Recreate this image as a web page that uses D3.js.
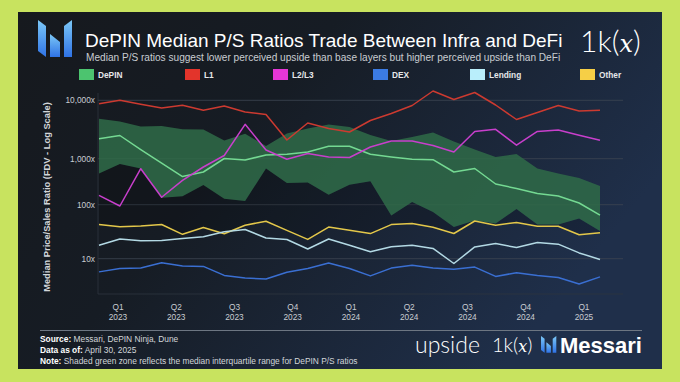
<!DOCTYPE html>
<html><head><meta charset="utf-8">
<script src="https://cdn.jsdelivr.net/npm/d3@7"></script>
<style>html,body{margin:0;padding:0;background:#c8e35f;}svg{display:block;}</style>
</head><body>
<svg id="c" width="680" height="382"></svg>
<script>
// ---------- data ----------
const quarters = ["Q1 2023","Q2 2023","Q3 2023","Q4 2023","Q1 2024","Q2 2024","Q3 2024","Q4 2024","Q1 2025"];
const yTicks = [10, 100, 1000, 10000];
const depin = [2200,2496,1437,806,410,514,1008,937,1157,1189,1302,1631,1631,1189,1069,970,951,514,612,282,225,175,155,109,64];
const depinQ3 = [4823,4335,3559,3630,3187,3162,2050,2670,1650,2701,3290,3852,3489,2546,2010,2352,2809,1970,1437,1069,1204,612,477,380,255];
const depinQ1 = [477,767,612,142,153,268,134,120,612,296,305,164,271,324,63,114,73,38.6,51,44.9,83,43,43,55.5,32.6];
const l1 = [8750,10000,8540,7384,8211,6742,7988,6305,5712,2090,4087,3290,2866,4510,5942,8147,14430,10320,13600,8310,4690,6182,8147,6559,6742];
const l2l3 = [160,94.6,606,145,339,660,1134,3882,1410,970,1227,1069,1048,1586,2010,2010,1683,1302,2923,3187,1703,2923,3100,2526,2074];
const dex = [5.7,6.6,6.7,8.4,7.3,7.2,4.9,4.4,4.2,5.6,6.6,8.3,6.6,4.8,6.7,7.6,6.7,6.4,7.0,4.7,5.5,4.9,4.5,3.4,4.6];
const lending = [17.8,23.2,21.5,21.7,23.7,25.4,31.5,34.7,24.2,22.7,15.1,23.2,17.8,13.4,16.6,17.8,15.5,8.15,16.5,19.1,16.1,20,18.6,12.8,9.7];
const other = [43,39,40.3,43,28.3,37.8,28.9,41.7,49.5,33.4,22.8,38.6,33.7,29.2,42.8,44.7,38.3,29.3,49.9,41.7,46.8,40,40,27.7,30.2];
const legendNames = ["DePIN","L1","L2/L3","DEX","Lending","Other"];
const legendColors = ["#4cc46f","#e3342b","#e636d6","#3b7be3","#b9eefb","#f6cf46"];

// ---------- drawing ----------
const svg = d3.select("#c");
const defs = svg.append("defs");
const g1 = defs.append("linearGradient").attr("id","bg").attr("x1","0").attr("y1","0").attr("x2","1").attr("y2","0.45");
g1.append("stop").attr("offset","0").attr("stop-color","#16191e");
g1.append("stop").attr("offset","0.42").attr("stop-color","#161c24");
g1.append("stop").attr("offset","1").attr("stop-color","#1f2f4a");
const g2 = defs.append("linearGradient").attr("id","logo").attr("x1","0").attr("y1","0").attr("x2","0").attr("y2","1");
g2.append("stop").attr("offset","0").attr("stop-color","#7cc8f7");
g2.append("stop").attr("offset","1").attr("stop-color","#2f73e6");

svg.append("rect").attr("x",0).attr("y",0).attr("width",680).attr("height",382).attr("fill","#c8e35f");
svg.append("rect").attr("x",18).attr("y",12).attr("width",644).attr("height",357).attr("fill","url(#bg)");

// logo icon
function logo(x0, y0, s){
  const shapes = [
    [[0,0],[8,6],[8,37],[0,31]],
    [[12,14],[22,22],[22,37],[12,37]],
    [[26,6],[34,0],[34,37],[26,37]]
  ];
  shapes.forEach(p=>{
    svg.append("polygon").attr("points", p.map(d=>[x0+d[0]*s, y0+d[1]*s].join(",")).join(" ")).attr("fill","url(#logo)");
  });
}
logo(38, 20, 1);

svg.append("text").attr("x",85).attr("y",47).attr("fill","#ffffff")
  .attr("font-family","Liberation Sans, Arial, sans-serif").attr("font-size",19)
  .text("DePIN Median P/S Ratios Trade Between Infra and DeFi");
svg.append("text").attr("x",86).attr("y",61).attr("fill","#c9cdd2")
  .attr("font-family","Liberation Sans, Arial, sans-serif").attr("font-size",10.1)
  .text("Median P/S ratios suggest lower perceived upside than base layers but higher perceived upside than DeFi");
const k1 = svg.append("text").attr("x",580).attr("y",52).attr("fill","#ffffff")
  .attr("font-family","Lato, Liberation Sans, sans-serif").attr("font-weight",300).attr("font-size",30);
k1.append("tspan").text("1k(");
k1.append("tspan").attr("font-family","DejaVu Serif, serif").attr("font-style","italic").attr("font-size",24).text("x");
k1.append("tspan").text(")");

// legend
const legX = [79,185,273,373,470,580];
legendNames.forEach((n,i)=>{
  svg.append("rect").attr("x",legX[i]).attr("y",69).attr("width",15).attr("height",11).attr("fill",legendColors[i]);
  svg.append("text").attr("x",legX[i]+19).attr("y",78).attr("fill","#e6e8ea")
    .attr("font-family","Liberation Sans, Arial, sans-serif").attr("font-weight","bold").attr("font-size",8.3).text(n);
});

// scales
const x = d3.scaleLinear().domain([0, depin.length-1]).range([99, 600]);
const y = d3.scaleLog().domain([10,100,1000,10000]).range([258.7,204.7,158.7,100.3]);
const xq = d3.scalePoint().domain(quarters).range([x(0.91), x(23.23)]);

// plot frame & grid
const plotL = 98, plotR = 623, plotT = 93, plotB = 294;
yTicks.forEach(t=>{
  svg.append("line").attr("x1",plotL).attr("x2",plotR).attr("y1",y(t)).attr("y2",y(t))
    .attr("stroke","#3c4552").attr("stroke-width",0.8);
  svg.append("text").attr("x",95).attr("y",y(t)+3).attr("text-anchor","end").attr("fill","#c9cdd2")
    .attr("font-family","Liberation Sans, Arial, sans-serif").attr("font-size",8.3)
    .text(d3.format(",")(t)+"x");
});
svg.append("line").attr("x1",plotL).attr("x2",plotL).attr("y1",plotT).attr("y2",plotB).attr("stroke","#2d3540").attr("stroke-width",0.8);
svg.append("line").attr("x1",plotL).attr("x2",plotR).attr("y1",plotB).attr("y2",plotB).attr("stroke","#2d3540").attr("stroke-width",0.8);

quarters.forEach(q=>{
  const [a,b] = q.split(" ");
  const t = svg.append("text").attr("text-anchor","middle").attr("fill","#c9cdd2")
    .attr("font-family","Liberation Sans, Arial, sans-serif").attr("font-size",8.3);
  t.append("tspan").attr("x",xq(q)).attr("y",310).text(a);
  t.append("tspan").attr("x",xq(q)).attr("y",320).text(b);
});

svg.append("text").attr("transform","translate(50,197) rotate(-90)").attr("text-anchor","middle")
  .attr("fill","#d3d6da").attr("font-family","Liberation Sans, Arial, sans-serif").attr("font-weight","bold").attr("font-size",9.3)
  .text("Median Price/Sales Ratio (FDV - Log Scale)");

// subtle dark zone between IQR low and Other
const darkArea = d3.area().x((d,i)=>x(i)).y0((d,i)=>y(other[i])).y1((d,i)=>y(depinQ1[i]));
svg.append("path").datum(depin).attr("d",darkArea).attr("fill","#000").attr("opacity",0.18);

// IQR band
const band = d3.area().x((d,i)=>x(i)).y0((d,i)=>y(depinQ1[i])).y1((d,i)=>y(depinQ3[i]));
svg.append("path").datum(depin).attr("d",band).attr("fill","#2f6b48").attr("opacity",0.85);

const line = d3.line().x((d,i)=>x(i)).y(d=>y(d));
const series = [
  [other,"#e3c74a"],[lending,"#b3d9e4"],[dex,"#3a6fd2"],[depin,"#74d992"],[l2l3,"#c83fcc"],[l1,"#cc3a30"]
];
series.forEach(([d,c])=>{
  svg.append("path").datum(d).attr("d",line).attr("fill","none").attr("stroke",c).attr("stroke-width",1.5).attr("stroke-linejoin","round");
});

// footer
svg.append("line").attr("x1",40).attr("x2",642).attr("y1",330.5).attr("y2",330.5).attr("stroke","#6d7682").attr("stroke-width",1);
const foot = [["Source:"," Messari, DePIN Ninja, Dune"],["Data as of:"," April 30, 2025"],["Note:"," Shaded green zone reflects the median interquartile range for DePIN P/S ratios"]];
foot.forEach((f,i)=>{
  const t = svg.append("text").attr("x",40).attr("y",342+i*11).attr("fill","#d3d6da")
    .attr("font-family","Liberation Sans, Arial, sans-serif").attr("font-size",8.4);
  t.append("tspan").attr("font-weight","bold").attr("fill","#ffffff").text(f[0]);
  t.append("tspan").text(f[1]);
});
svg.append("text").attr("x",415).attr("y",353).attr("fill","#ffffff")
  .attr("font-family","Lato, Liberation Sans, sans-serif").attr("font-weight",300).attr("font-size",23).text("upside");
const k2 = svg.append("text").attr("x",492).attr("y",352).attr("fill","#ffffff")
  .attr("font-family","Lato, Liberation Sans, sans-serif").attr("font-weight",300).attr("font-size",20);
k2.append("tspan").text("1k(");
k2.append("tspan").attr("font-family","DejaVu Serif, serif").attr("font-style","italic").attr("font-size",16).text("x");
k2.append("tspan").text(")");
logo(541, 336, 0.45);
svg.append("text").attr("x",560).attr("y",353).attr("fill","#ffffff")
  .attr("font-family","Liberation Sans, Arial, sans-serif").attr("font-weight","bold").attr("font-size",22).text("Messari");
</script>
</body></html>
